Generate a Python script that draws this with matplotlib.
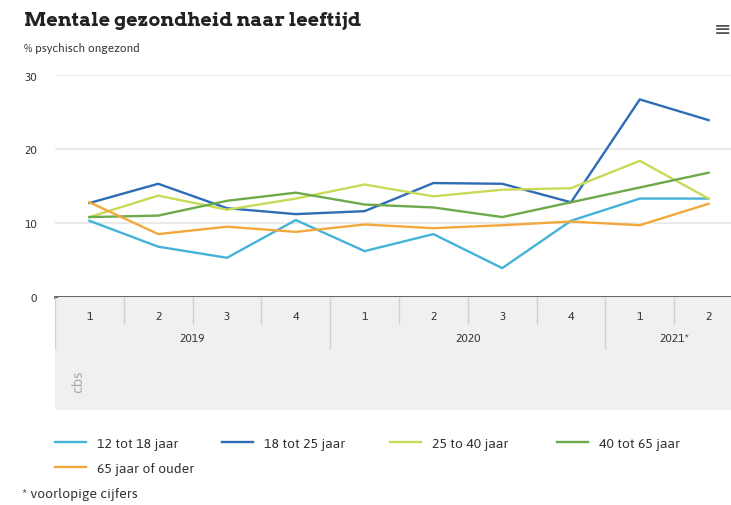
import matplotlib.pyplot as plt
from matplotlib.patches import FancyBboxPatch

# data
kwartalen = ['1', '2', '3', '4', '1', '2', '3', '4', '1', '2']
jaren = ['2019', '2020', '2021*']
jaar_start = [0, 4, 8]
jaar_eind = [3, 7, 9]

leeftijd_12_18 = [10.3, 6.8, 5.3, 10.4, 6.2, 8.5, 3.9, 10.3, 13.3, 13.3]
leeftijd_18_25 = [12.7, 15.3, 12.0, 11.2, 11.6, 15.4, 15.3, 12.8, 26.7, 23.9]
leeftijd_25_40 = [10.8, 13.7, 11.8, 13.3, 15.2, 13.6, 14.5, 14.7, 18.4, 13.3]
leeftijd_40_65 = [10.8, 11.0, 13.0, 14.1, 12.5, 12.1, 10.8, 12.8, 14.8, 16.8]
leeftijd_65_plus = [12.8, 8.5, 9.5, 8.8, 9.8, 9.3, 9.7, 10.2, 9.7, 12.6]

reeksen = [leeftijd_12_18, leeftijd_18_25, leeftijd_25_40, leeftijd_40_65, leeftijd_65_plus]
namen = ['12 tot 18 jaar', '18 tot 25 jaar', '25 to 40 jaar', '40 tot 65 jaar', '65 jaar of ouder']
kleuren = ['#45B3D8', '#2E6DB5', '#C8DA56', '#6CAA4B', '#F2A83C']

plt.rcParams['font.family'] = ['Asap', 'DejaVu Sans']

W, H = 731, 506
fig = plt.figure(figsize=(W / 100, H / 100), dpi=100)

# main plot area (pixels converted to figure fractions)
links, rechts = 55, 743
ax = fig.add_axes([links / W, (H - 298) / H, (rechts - links) / W, (298 - 76) / H])
x = list(range(len(kwartalen)))
lijnen = []
for waarden, naam, kleur in zip(reeksen, namen, kleuren):
    l, = ax.plot(x, waarden, color=kleur, lw=1.7, label=naam)
    lijnen.append(l)

ax.set_xlim(-0.5, len(kwartalen) - 0.5)
ax.set_ylim(0, 30)
ax.set_yticks([0, 10, 20, 30])
ax.grid(axis='y', color='#E6E6E6', lw=1.2)
ax.set_axisbelow(True)
ax.axhline(0, color='#555555', lw=2, zorder=5, clip_on=False)
for s in ax.spines.values():
    s.set_visible(False)
ax.tick_params(axis='y', length=0, pad=13, labelsize=8.5, labelcolor='#333333')
ax.tick_params(axis='x', length=0, labelbottom=False)

# category box below the axis
ax2 = fig.add_axes([links / W, (H - 413) / H, (rechts - links) / W, 115 / H], sharex=ax)
ax2.set_ylim(115, 0)
ax2.axis('off')
ax2.add_patch(FancyBboxPatch((-0.5, 0), len(kwartalen), 113, boxstyle='round,pad=0,rounding_size=0.08',
                             mutation_aspect=60, facecolor='#F0F0F0', edgecolor='none', clip_on=False))
for i, q in enumerate(kwartalen):
    ax2.text(i, 19, q, ha='center', va='center', fontsize=8.5, color='#333333')
for jaar, a, b in zip(jaren, jaar_start, jaar_eind):
    ax2.text((a + b) / 2, 41, jaar, ha='center', va='center', fontsize=8.5, color='#333333')
for i in range(len(kwartalen)):
    grens = i - 0.5
    lang = grens == -0.5 or any(grens == s - 0.5 for s in jaar_start)
    ax2.vlines(grens, 0, 52 if lang else 27, color='#D0D0D0', lw=1)
ax2.text(-0.16, 84, 'cbs', rotation=90, ha='center', va='center', fontsize=11,
         color='#ABABAB', fontweight='bold')

# titles
fig.text(24 / W, 1 - 21 / H, 'Mentale gezondheid naar leeftijd', fontsize=14, fontweight='bold',
         color='#222222', va='center', ha='left', family=['Arvo', 'Asap Condensed', 'DejaVu Sans'])
fig.text(24 / W, 1 - 48 / H, '% psychisch ongezond', fontsize=8.5, color='#333333', va='center')
fig.text(723 / W, 1 - 30 / H, '≡', fontsize=15, color='#555555', ha='center', va='center',
         family='DejaVu Sans')

# legend: one block per column, "65 jaar of ouder" under the first entry
kolommen = [[0, 4], [1], [2], [3]]
kolom_x = [55, 222, 390, 557]
for groep, kx in zip(kolommen, kolom_x):
    fig.legend(handles=[lijnen[i] for i in groep], labels=[namen[i] for i in groep],
               loc='upper left', bbox_to_anchor=(kx / W, 1 - 438 / H), frameon=False,
               fontsize=10, handlelength=2.2, handletextpad=0.85, labelspacing=0.85,
               borderpad=0, borderaxespad=0, labelcolor='#333333')
fig.text(22 / W, 1 - 495 / H, '* voorlopige cijfers', fontsize=10, color='#333333', va='center')

fig.savefig('out.png', dpi=100)
